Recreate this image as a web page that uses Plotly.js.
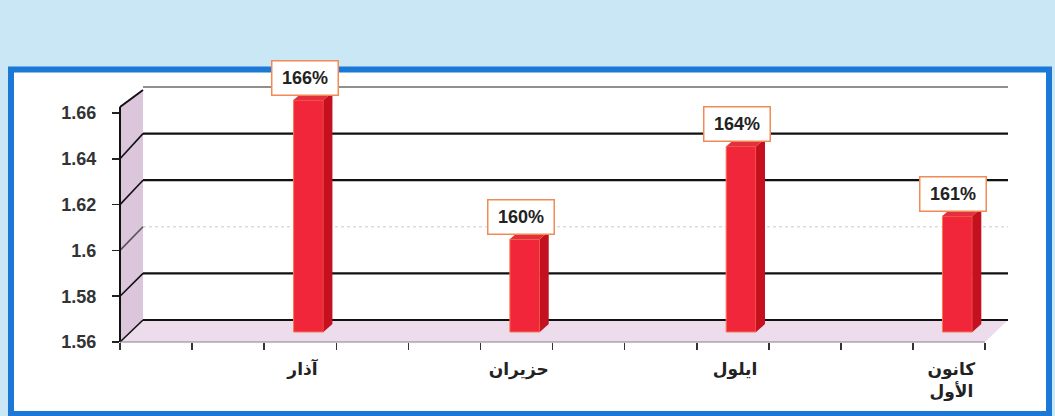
<!DOCTYPE html>
<html>
<head>
<meta charset="utf-8">
<script src="https://cdn.plot.ly/plotly-3.0.1.min.js"></script>
<style>html,body{margin:0;padding:0;background:#c9e7f4;}#chart{width:1055px;height:416px;}</style>
</head>
<body>
<div id="chart"></div>
<script>
// ---- data ----
const categories = ['آذار', 'حزيران', 'ايلول', 'كانون<br>الأول'];
const values = [1.66, 1.60, 1.64, 1.61];
const valueLabels = ['166%', '160%', '164%', '161%'];
const yTickVals = [1.56, 1.58, 1.60, 1.62, 1.64, 1.66];
const yTickText = ['1.56', '1.58', '1.6', '1.62', '1.64', '1.66'];
const BASE = 1.56;

// ---- geometry (pixels of the 1055x416 canvas) ----
const W = 1055, H = 416;
const M = {l: 120, r: 47, t: 87, b: 74};
const PW = W - M.l - M.r, PH = H - M.t - M.b;
const px = x => (x - M.l) / PW;
const py = y => (H - M.b - y) / PH;
const yBack = v => 320 - (v - BASE) * 2330;   // back wall plane
const yFront = v => 342 - (v - BASE) * 2290;  // front plane
const X0 = -0.8715, X1 = 3.234;
const BAR_W = 0.138, DX = 0.0416, DY = 0.00345;

const FONT = 'Liberation Sans, DejaVu Sans, Arial, sans-serif';
const idx = categories.map((c, i) => i);

const traces = [];
traces.push({
  type: 'bar', x: idx, y: values.map(v => v - BASE), base: BASE,
  width: BAR_W, marker: {color: '#f2263a', line: {color: '#f57a4e', width: 1}},
  hoverinfo: 'skip', xaxis: 'x', yaxis: 'y'
});
values.forEach((v, i) => {
  const hw = BAR_W / 2;
  traces.push({
    type: 'scatter', mode: 'lines', fill: 'toself', fillcolor: '#c5111f',
    line: {width: 0, color: '#c5111f'}, hoverinfo: 'skip',
    x: [i + hw, i + hw + DX, i + hw + DX, i + hw, i + hw],
    y: [BASE, BASE + DY, v + DY, v, BASE]
  });
  traces.push({
    type: 'scatter', mode: 'lines', fill: 'toself', fillcolor: '#e2303d',
    line: {width: 0, color: '#e2303d'}, hoverinfo: 'skip',
    x: [i - hw, i + hw, i + hw + DX, i - hw + DX, i - hw],
    y: [v, v, v + DY, v + DY, v]
  });
});
traces.push({type: 'scatter', x: [null], y: [null], xaxis: 'x', yaxis: 'y2', hoverinfo: 'skip'});
traces.push({type: 'scatter', x: [null], y: [null], xaxis: 'x2', yaxis: 'y', hoverinfo: 'skip'});

// ---- decorative shapes (walls, floor, frame, gridlines) ----
const shapes = [];
shapes.push({type: 'rect', xref: 'paper', yref: 'paper', layer: 'below',
  x0: px(11), x1: px(1049), y0: py(414), y1: py(69.5),
  line: {color: '#1b78d6', width: 6}, fillcolor: '#ffffff'});
const poly = pts => 'M ' + pts.map(p => px(p[0]) + ',' + py(p[1])).join(' L ') + ' Z';
shapes.push({type: 'path', xref: 'paper', yref: 'paper', layer: 'below',
  path: poly([[120, 342], [143, 320], [1008, 320], [985, 342]]),
  fillcolor: '#ecdcec', line: {width: 0}});
shapes.push({type: 'path', xref: 'paper', yref: 'paper', layer: 'below',
  path: poly([[120, 342], [120, 107], [143, 90], [143, 320]]),
  fillcolor: '#dcc6dc', line: {width: 0}});
yTickVals.forEach(v => {
  const faint = (v === 1.60);
  const top = (v === 1.66);
  const col = faint ? 'rgba(140,140,140,0.45)' : (top ? '#6a6a6a' : '#111');
  const w = faint ? 1 : (top ? 1.5 : 2.2);
  shapes.push({type: 'line', xref: 'paper', yref: 'paper', layer: 'below',
    x0: px(143), x1: px(1008), y0: py(yBack(v)), y1: py(yBack(v)),
    line: {color: col, width: w, dash: faint ? 'dot' : 'solid'}});
  if (!top) {
    shapes.push({type: 'line', xref: 'paper', yref: 'paper', layer: 'below',
      x0: px(120), x1: px(143), y0: py(yFront(v)), y1: py(yBack(v)),
      line: {color: faint ? '#555' : '#111', width: 1.6}});
  }
});
shapes.push({type: 'line', xref: 'paper', yref: 'paper', layer: 'below',
  x0: px(120), x1: px(120), y0: py(342), y1: py(107), line: {color: '#111', width: 2}});
shapes.push({type: 'line', xref: 'paper', yref: 'paper', layer: 'below',
  x0: px(120), x1: px(143), y0: py(107), y1: py(90), line: {color: '#111', width: 2}});
shapes.push({type: 'line', xref: 'paper', yref: 'paper', layer: 'below',
  x0: px(120), x1: px(985), y0: py(342), y1: py(342), line: {color: '#8a7f8a', width: 1}});

// ---- value labels ----
const annotations = values.map((v, i) => ({
  x: i, y: v, xref: 'x', yref: 'y', text: valueLabels[i], showarrow: false,
  yanchor: 'bottom', yshift: 4, xshift: -4,
  width: 61, height: 29, borderpad: 2, borderwidth: 1.5,
  bordercolor: '#f28a55', bgcolor: '#ffffff',
  font: {family: FONT, size: 18, color: '#222', weight: 'bold'}
}));

const layout = {
  width: W, height: H, margin: {l: M.l, r: M.r, t: M.t, b: M.b, pad: 0},
  paper_bgcolor: '#c9e7f4', plot_bgcolor: 'rgba(0,0,0,0)', showlegend: false,
  xaxis: {range: [X0, X1], tickmode: 'array', tickvals: idx.map(i => i - 0.028), ticktext: categories,
    ticks: '', showgrid: false, zeroline: false, showline: false, ticklabelstandoff: 15,
    tickfont: {family: FONT, size: 17, color: '#222', weight: 'bold'}, fixedrange: true},
  xaxis2: {overlaying: 'x', anchor: 'y', side: 'bottom', range: [X0, X1], tick0: X0, dtick: 1 / 3,
    ticks: 'outside', ticklen: 7, tickwidth: 1.5, tickcolor: '#333', showticklabels: false,
    showgrid: false, zeroline: false, showline: false, fixedrange: true},
  yaxis: {range: [BASE - 10 / 2320, BASE - 10 / 2320 + PH / 2320], showticklabels: false,
    ticks: '', showgrid: false, zeroline: false, showline: false, fixedrange: true},
  yaxis2: {overlaying: 'y', side: 'left', anchor: 'x', range: [BASE, BASE + PH / 2290],
    tickmode: 'array', tickvals: yTickVals, ticktext: yTickText,
    ticks: 'outside', ticklen: 7, tickwidth: 1.5, tickcolor: '#222', ticklabelstandoff: 12,
    tickfont: {family: FONT, size: 18, color: '#333', weight: 'bold'},
    showgrid: false, zeroline: false, showline: false, fixedrange: true},
  shapes: shapes, annotations: annotations
};

Plotly.newPlot('chart', traces, layout, {staticPlot: true, displayModeBar: false});
</script>
</body>
</html>
